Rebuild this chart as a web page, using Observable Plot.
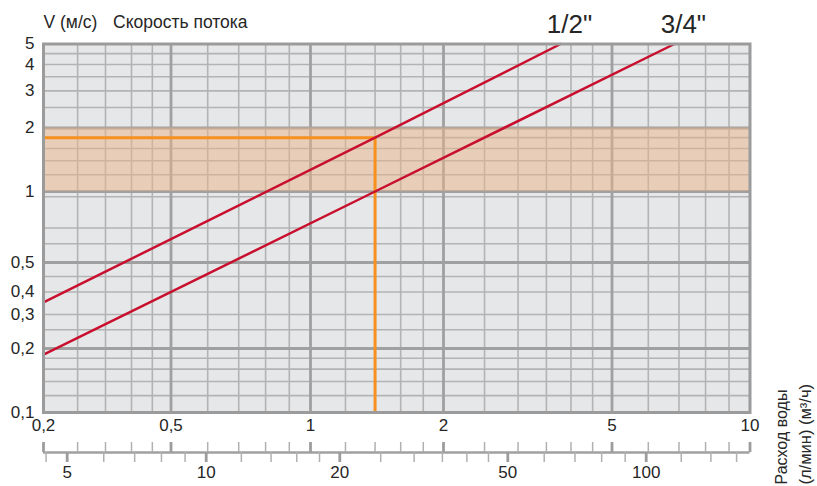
<!DOCTYPE html>
<html>
<head>
<meta charset="utf-8">
<script src="https://cdn.jsdelivr.net/npm/d3@7"></script>
<script src="https://cdn.jsdelivr.net/npm/@observablehq/plot@0.6"></script>
<style>
  html, body { margin: 0; padding: 0; background: #fff; overflow: hidden; }
  #wrap { position: relative; width: 817px; height: 486px; }
  #wrap svg { position: absolute; left: 0; top: 0; max-width: none; }
</style>
</head>
<body>
<div id="wrap"></div>
<script>
// ---------- data ----------
// flow rate, m³/h (top scale)
const xLabels = [0.2, 0.5, 1, 2, 5, 10];
const xMajor = [0.5, 1, 2, 5];
const xMinor = [0.25, 0.3, 0.4, 0.45, 0.6, 0.7, 0.8, 0.9, 1.2, 1.4, 1.6, 1.8, 2.5, 3, 3.5, 4, 4.5, 6, 7, 8, 9];
// velocity, m/s
const yLabels = [0.1, 0.2, 0.3, 0.4, 0.5, 1, 2, 3, 4, 5];
const yMajor = [0.2, 0.5, 1, 2];
const yMinor = [0.12, 0.14, 0.16, 0.18, 0.25, 0.3, 0.4, 0.45, 0.6, 0.7, 0.95, 1.2, 1.4, 1.6, 1.8, 2.5, 3, 3.5, 4, 4.5];
// flow rate, l/min (bottom scale)
const lminMajor = [5, 10, 20, 50, 100];
const lminMinor = [4.5, 6, 7, 8, 9, 12, 14, 16, 18, 25, 30, 35, 40, 45, 60, 70, 80, 90, 120, 140, 160];
// pipe series
const pipeNames = ['1/2"', '3/4"'];
const pipeQ = [[0.2, 1.4, 3.78], [0.2, 1.4, 6.84]];
const pipeV = [[0.35, 1.8, 5], [0.187, 1, 5]];
// recommended velocity band and example reading
const comfortBand = [1, 2];
const exampleQ = 1.4;
const exampleV = 1.8;

// ---------- scale configuration (non-uniform printed grid) ----------
const xBreaks = [0.2, 0.3, 0.4, 0.5, 1, 2, 5, 10];
const xRangePx = [43, 105, 131, 170.5, 310, 443, 611.5, 749.5];
const yBreaks = [0.1, 0.2, 0.3, 0.4, 0.5, 1, 2, 5];
const yRangePx = [412, 348, 314, 291.5, 262, 191, 127.5, 43.5];
const lminBreaks = [5, 10, 20, 50, 100, 200];
const lminRangePx = [66.7, 205.7, 339.3, 507.3, 645.7, 779];

const FONT = "Liberation Sans, Arial, Helvetica, sans-serif";
const INK = "#262626";
const fmt = d => String(d).replace(".", ",");

const xMin = xLabels[0], xMax = xLabels[xLabels.length - 1];
const yMin = yLabels[0];

const pipeRows = pipeNames.flatMap((name, i) =>
  pipeQ[i].map((q, j) => ({pipe: name, q, v: pipeV[i][j]})));
const exampleRows = [
  {q: xMin, v: exampleV},
  {q: exampleQ, v: exampleV},
  {q: exampleQ, v: yMin}
];
const labelRows = pipeNames.map((name, i) => ({pipe: name, q: pipeQ[i][pipeQ[i].length - 1]}));

const dims = {width: 817, height: 486, marginTop: 43.5, marginLeft: 43, marginRight: 67.5, marginBottom: 74};
const style = {fontFamily: FONT, background: "transparent", overflow: "visible", color: INK};

const plotA = Plot.plot({
  ...dims,
  x: {type: "log", domain: xBreaks, range: xRangePx, axis: null, label: null},
  y: {type: "log", domain: yBreaks, range: yRangePx, axis: null, label: null},
  style,
  marks: [
    Plot.frame({fill: "#e6e7e9"}),
    Plot.ruleX(xMinor, {stroke: "#b3b3b3", strokeWidth: 1.6}),
    Plot.ruleY(yMinor, {stroke: "#b3b3b3", strokeWidth: 1.6}),
    Plot.ruleX(xMajor, {stroke: "#a0a0a0", strokeWidth: 2.8}),
    Plot.ruleY(yMajor, {stroke: "#a0a0a0", strokeWidth: 2.8}),
    Plot.rect([comfortBand], {
      x1: () => xMin, x2: () => xMax, y1: d => d[0], y2: d => d[1],
      fill: "#eab68a", fillOpacity: 0.5
    }),
    Plot.line(exampleRows, {x: "q", y: "v", stroke: "#f7901e", strokeWidth: 3}),
    Plot.line(pipeRows, {x: "q", y: "v", z: "pipe", stroke: "#c8102e", strokeWidth: 2.5}),
    Plot.frame({stroke: "#9b9b9b", strokeWidth: 3}),
    // y tick labels
    Plot.text(yLabels, {y: d => d, frameAnchor: "left", dx: -9, textAnchor: "end", text: fmt,
      fontSize: 17, fontFamily: FONT, fill: INK}),
    // top scale ruler (m³/h)
    Plot.ruleY([yMin], {dy: 40, stroke: "#a0a0a0", strokeWidth: 2.6}),
    Plot.axisX({ticks: xMinor, anchor: "bottom", tickSize: 10, dy: 30, tickFormat: () => "", label: null,
      stroke: "#b0b0b0", strokeWidth: 1.5}),
    Plot.axisX({ticks: xLabels, anchor: "bottom", tickSize: 10, dy: 30, tickFormat: () => "", label: null,
      stroke: "#9d9d9d", strokeWidth: 2.8}),
    Plot.text(xLabels, {x: d => d, frameAnchor: "bottom", dy: 18, text: fmt,
      fontSize: 17, fontFamily: FONT, fill: INK}),
    // pipe labels
    Plot.text(labelRows, {x: "q", text: "pipe", frameAnchor: "top", dx: 9, dy: -11.5, lineAnchor: "bottom",
      fontSize: 26, fontFamily: FONT, fill: INK}),
    // title
    Plot.text(["V (м/с)"], {text: d => d, frameAnchor: "top-left", dy: -16, lineAnchor: "bottom",
      textAnchor: "start", fontSize: 17.5, fontFamily: FONT, fill: INK}),
    Plot.text(["Скорость потока"], {text: d => d, frameAnchor: "top-left", dx: 69.5, dy: -16, lineAnchor: "bottom",
      textAnchor: "start", fontSize: 17.5, fontFamily: FONT, fill: INK}),
    // rotated axis caption
    Plot.text(["Расход воды"], {text: d => d, frameAnchor: "bottom-right", dx: 36.5, dy: 72, rotate: -90,
      textAnchor: "start", lineAnchor: "bottom", fontSize: 16, fontFamily: FONT, fill: INK}),
    Plot.text(["(л/мин) (м³/ч)"], {text: d => d, frameAnchor: "bottom-right", dx: 60.5, dy: 72, rotate: -90,
      textAnchor: "start", lineAnchor: "bottom", fontSize: 16.5, fontFamily: FONT, fill: INK})
  ]
});

const plotB = Plot.plot({
  ...dims,
  x: {type: "log", domain: lminBreaks, range: lminRangePx, axis: null, label: null},
  style,
  marks: [
    Plot.axisX({ticks: lminMinor, anchor: "bottom", tickSize: 10, dy: 40, tickFormat: () => "", label: null,
      stroke: "#b0b0b0", strokeWidth: 1.5}),
    Plot.axisX({ticks: lminMajor, anchor: "bottom", tickSize: 10, dy: 40, tickFormat: () => "", label: null,
      stroke: "#9d9d9d", strokeWidth: 2.8}),
    Plot.text(lminMajor, {x: d => d, frameAnchor: "bottom", dy: 65, text: d => String(d),
      fontSize: 17, fontFamily: FONT, fill: INK})
  ]
});

const wrap = document.getElementById("wrap");
wrap.appendChild(plotA);
wrap.appendChild(plotB);
</script>
</body>
</html>
